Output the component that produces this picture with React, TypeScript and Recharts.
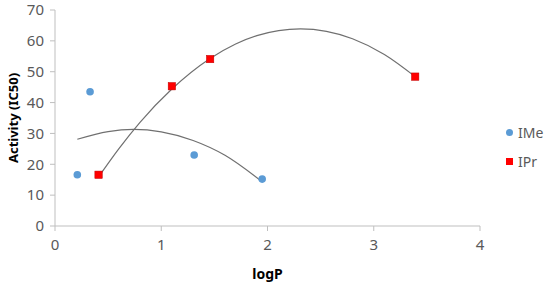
import React from "react";
import {
  ComposedChart,
  Scatter,
  Line,
  XAxis,
  YAxis,
  Legend,
} from "recharts";

// Measured data points
const imeX = [0.21, 0.33, 1.31, 1.95];
const imeY = [16.6, 43.5, 23.0, 15.2];
const iprX = [0.41, 1.1, 1.46, 3.39];
const iprY = [16.6, 45.3, 54.1, 48.4];

// Trendline points
const imeTrendX = [0.21, 0.5, 0.74, 1.0, 1.3, 1.6, 1.95];
const imeTrendY = [28.1, 30.6, 31.3, 30.5, 27.7, 22.9, 14.3];
const iprTrendX = [0.41, 0.6, 0.8, 1.1, 1.46, 1.7, 1.9, 2.31, 2.8, 3.1, 3.39];
const iprTrendY = [15.9, 25.0, 33.6, 44.4, 54.3, 59.0, 61.7, 63.9, 60.7, 55.6, 48.4];

const xTicks = [0, 1, 2, 3, 4];
const yTicks = [0, 10, 20, 30, 40, 50, 60, 70];
const legendNames = ["IMe", "IPr"];

const zip = (xs: number[], ys: number[]) => xs.map((x, i) => ({ x, y: ys[i] }));
const imeData = zip(imeX, imeY);
const iprData = zip(iprX, iprY);
const imeTrend = zip(imeTrendX, imeTrendY);
const iprTrend = zip(iprTrendX, iprTrendY);

const BLUE = "#5b9bd5";
const RED = "#ff0000";
const FONT = "'Noto Sans', sans-serif";

const Circle = (props: any) => {
  const { cx, cy } = props;
  return <circle cx={cx} cy={cy} r={3.8} fill={BLUE} />;
};
const Square = (props: any) => {
  const { cx, cy } = props;
  return <rect x={cx - 3.7} y={cy - 3.7} width={7.4} height={7.4} fill={RED} stroke="#c00000" strokeWidth={0.5} />;
};

const LegendContent = () => (
  <div style={{ fontFamily: FONT, fontSize: 14, color: "#595959" }}>
    <div style={{ display: "flex", alignItems: "center", height: 20, marginBottom: 9 }}>
      <svg width={9} height={9} style={{ marginRight: 4 }}>
        <circle cx={4.5} cy={4.5} r={3.5} fill={BLUE} />
      </svg>
      <span>{legendNames[0]}</span>
    </div>
    <div style={{ display: "flex", alignItems: "center", height: 20 }}>
      <svg width={9} height={9} style={{ marginRight: 4 }}>
        <rect x={1} y={1} width={7} height={7} fill={RED} />
      </svg>
      <span>{legendNames[1]}</span>
    </div>
  </div>
);

const YLabel = (props: any) => {
  const { viewBox } = props;
  const cy = viewBox.y + viewBox.height / 2;
  return (
    <text
      x={13}
      y={cy}
      transform={`rotate(-90, 13, ${cy})`}
      textAnchor="middle"
      dominantBaseline="central"
      style={{ fontWeight: "bold", fontSize: 13, fill: "#000", fontFamily: FONT }}
    >
      Activity (IC50)
    </text>
  );
};

export default function App() {
  return (
    <div style={{ position: "absolute", left: 0, top: 0, background: "#fff" }}>
      <ComposedChart
        width={550}
        height={285}
        margin={{ top: 10, right: 20, bottom: 0, left: 0 }}
      >
        <XAxis
          type="number"
          dataKey="x"
          domain={[0, 4]}
          ticks={xTicks}
          interval={0}
          allowDataOverflow
          stroke="#bfbfbf"
          tickSize={5}
          tickMargin={8}
          tick={{ fill: "#595959", fontSize: 15, fontFamily: FONT }}
          height={59}
          label={{
            value: "logP",
            position: "insideBottom",
            offset: 6,
            style: { fontWeight: "bold", fontSize: 14, fill: "#000", fontFamily: FONT },
          }}
        />
        <YAxis
          type="number"
          dataKey="y"
          domain={[0, 70]}
          ticks={yTicks}
          interval={0}
          stroke="#bfbfbf"
          tickSize={5}
          tickMargin={6}
          width={55}
          tick={{ fill: "#595959", fontSize: 15, fontFamily: FONT }}
          label={<YLabel />}
        />
        <Line
          data={imeTrend}
          dataKey="y"
          type="monotone"
          stroke="#707070"
          strokeWidth={1.2}
          dot={false}
          activeDot={false}
          legendType="none"
          isAnimationActive={false}
        />
        <Line
          data={iprTrend}
          dataKey="y"
          type="monotone"
          stroke="#707070"
          strokeWidth={1.2}
          dot={false}
          activeDot={false}
          legendType="none"
          isAnimationActive={false}
        />
        <Scatter name="IMe" data={imeData} shape={Circle} isAnimationActive={false} />
        <Scatter name="IPr" data={iprData} shape={Square} isAnimationActive={false} />
        <Legend
          layout="vertical"
          align="right"
          verticalAlign="top"
          content={LegendContent}
          wrapperStyle={{ left: 505, top: 122, width: 50 }}
        />
      </ComposedChart>
    </div>
  );
}
